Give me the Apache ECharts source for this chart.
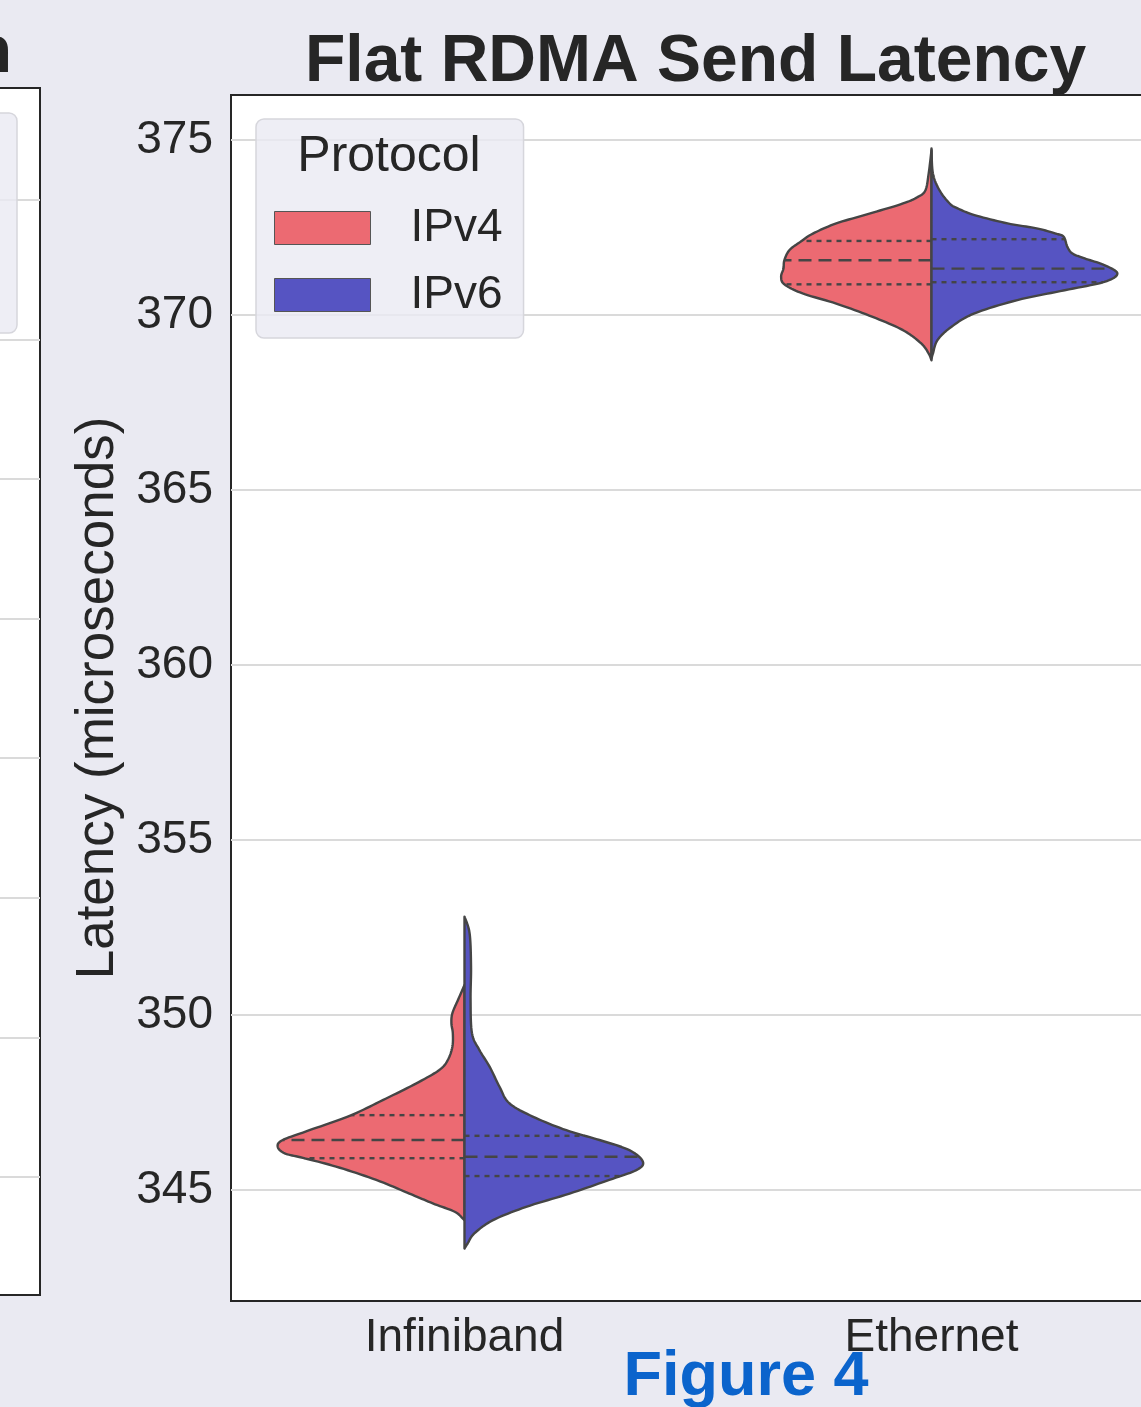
<!DOCTYPE html>
<html>
<head>
<meta charset="utf-8">
<script src="https://cdn.jsdelivr.net/npm/echarts@6/dist/echarts.min.js"></script>
<style>
  html, body { margin: 0; padding: 0; background: #eaeaf2; }
  #chart { width: 1141px; height: 1407px; }
</style>
</head>
<body>
<div id="chart"></div>
<script>
const categories = ['Infiniband', 'Ethernet']
const protocols = ['IPv4', 'IPv6']
const protocolColors = ['#ec6a72', '#5654c2']

// violin outlines: [latency, half width as fraction of the category band]
const infinibandIPv4 = [
  [350.86, 0], [350.43, 0.014], [350.05, 0.026], [349.76, 0.028], [349.48, 0.025],
  [349.09, 0.026], [348.71, 0.036], [348.43, 0.054], [348.05, 0.103], [347.57, 0.175],
  [347.12, 0.246], [346.71, 0.332], [346.43, 0.389], [346.24, 0.400], [346.05, 0.385],
  [345.92, 0.346], [345.67, 0.275], [345.29, 0.189], [344.90, 0.118], [344.62, 0.068],
  [344.38, 0.021], [344.19, 0.004], [344.14, 0],
]
const infinibandIPv6 = [
  [352.81, 0], [352.33, 0.011], [351.38, 0.014], [350.43, 0.013], [349.48, 0.016],
  [349.00, 0.032], [348.52, 0.054], [347.95, 0.075], [347.48, 0.096], [347.10, 0.146],
  [346.71, 0.218], [346.43, 0.289], [346.14, 0.353], [345.81, 0.382], [345.57, 0.368],
  [345.29, 0.310], [344.90, 0.225], [344.52, 0.132], [344.14, 0.061], [343.76, 0.021],
  [343.48, 0.007], [343.33, 0],
]
const ethernetIPv4 = [
  [374.71, 0], [374.05, 0.006], [373.57, 0.013], [373.38, 0.029], [373.19, 0.061],
  [372.90, 0.133], [372.62, 0.204], [372.33, 0.254], [372.11, 0.279], [371.86, 0.304],
  [371.57, 0.315], [371.33, 0.317], [371.10, 0.322], [370.88, 0.315], [370.62, 0.276],
  [370.33, 0.204], [369.95, 0.126], [369.57, 0.061], [369.19, 0.022], [368.90, 0.006],
  [368.71, 0],
]
const ethernetIPv6 = [
  [374.76, 0], [374.05, 0.003], [373.57, 0.017], [373.19, 0.039], [373.05, 0.056],
  [372.86, 0.092], [372.62, 0.163], [372.48, 0.225], [372.33, 0.266], [372.24, 0.283],
  [371.95, 0.291], [371.76, 0.302], [371.62, 0.328], [371.43, 0.370], [371.19, 0.398],
  [370.95, 0.370], [370.71, 0.285], [370.43, 0.184], [370.05, 0.092], [369.67, 0.043],
  [369.29, 0.013], [368.90, 0.003], [368.76, 0],
]

// [Q1, median, Q3]
const infinibandIPv4Quartiles = [345.91, 346.43, 347.14]
const infinibandIPv6Quartiles = [345.40, 345.95, 346.55]
const ethernetIPv4Quartiles = [370.88, 371.57, 372.12]
const ethernetIPv6Quartiles = [370.94, 371.33, 372.17]

const profiles = [[infinibandIPv4, ethernetIPv4], [infinibandIPv6, ethernetIPv6]]
const quartiles = [[infinibandIPv4Quartiles, ethernetIPv4Quartiles], [infinibandIPv6Quartiles, ethernetIPv6Quartiles]]

const FONT = '"Liberation Sans", Arial, sans-serif'
const TEXT = '#262626'
const EDGE = '#454545'

// catmull-rom through the outline points so the violin edge is smooth
function smoothOutline(pts, steps) {
  const out = []
  for (let i = 0; i < pts.length - 1; i++) {
    const p0 = pts[i - 1] || pts[i], p1 = pts[i], p2 = pts[i + 1], p3 = pts[i + 2] || pts[i + 1]
    for (let s = 0; s < steps; s++) {
      const t = s / steps, t2 = t * t, t3 = t2 * t
      const f = (a, b, c, d) => 0.5 * (2 * b + (c - a) * t + (2 * a - 5 * b + 4 * c - d) * t2 + (3 * b - a - 3 * c + d) * t3)
      out.push([f(p0[0], p1[0], p2[0], p3[0]), Math.max(0, f(p0[1], p1[1], p2[1], p3[1]))])
    }
  }
  out.push(pts[pts.length - 1])
  return out
}

function widthAt(outline, v) {
  for (let i = 0; i < outline.length - 1; i++) {
    const a = outline[i], b = outline[i + 1]
    if ((a[0] - v) * (b[0] - v) <= 0 && a[0] !== b[0]) {
      const k = (v - a[0]) / (b[0] - a[0])
      return a[1] + k * (b[1] - a[1])
    }
  }
  return 0
}

function renderViolin(params, api) {
  const si = params.seriesIndex
  const ci = api.value(0)
  const side = si === 0 ? -1 : 1
  const prof = profiles[si][ci]
  const quart = quartiles[si][ci]
  const cx = api.coord([ci, quart[1]])[0]
  const band = api.size([1, 0])[0]
  const outline = smoothOutline(prof, 10)
  const toPx = (v, w) => [cx + side * w * band, api.coord([ci, v])[1]]

  const pts = outline.map(([v, w]) => toPx(v, w))
  pts.unshift(toPx(prof[0][0], 0))
  pts.push(toPx(prof[prof.length - 1][0], 0))

  const children = [{
    type: 'polygon',
    shape: { points: pts },
    style: { fill: protocolColors[si], stroke: EDGE, lineWidth: 2.4, lineJoin: 'round' },
  }]
  quart.forEach((q, k) => {
    const w = widthAt(outline, q)
    const [x2, y] = toPx(q, w)
    children.push({
      type: 'line',
      shape: { x1: cx, y1: y, x2: x2, y2: y },
      style: { stroke: EDGE, lineWidth: 2.4, lineDash: k === 1 ? [13, 7] : [5, 5] },
    })
  })
  return { type: 'group', children }
}

const chart = echarts.init(document.getElementById('chart'))

chart.setOption({
  backgroundColor: '#eaeaf2',
  animation: false,
  textStyle: { fontFamily: FONT },
  title: [
    {
      text: 'Flat RDMA Send Latency',
      left: 305, top: 30, padding: 0,
      textStyle: { fontFamily: FONT, fontSize: 66, fontWeight: 'bold', color: TEXT },
    },
    {
      // title of the neighbouring panel, mostly outside the picture
      text: 'RDMA Write Latency Comparison',
      right: 1129, top: 21, padding: 0,
      textStyle: { fontFamily: FONT, fontSize: 66, fontWeight: 'bold', color: TEXT },
    },
  ],
  legend: {
    data: protocols,
    orient: 'vertical',
    left: 256, top: 119,
    padding: [86, 21, 20, 18],
    itemWidth: 96, itemHeight: 33, itemGap: 21,
    icon: 'rect',
    itemStyle: { borderColor: '#555', borderWidth: 1 },
    backgroundColor: 'rgba(234,234,242,0.8)',
    borderColor: '#d6d6dc', borderWidth: 1.5, borderRadius: 8,
    textStyle: { fontFamily: FONT, fontSize: 46, color: TEXT, padding: [0, 0, 0, 35] },
  },
  graphic: [
    {
      type: 'text', x: 389, y: 157, z: 100,
      style: { text: 'Protocol', fontFamily: FONT, fontSize: 50, fill: TEXT, align: 'center', verticalAlign: 'middle' },
    },
    {
      type: 'text', x: 746, y: 1378, z: 100,
      style: { text: 'Figure 4', fontFamily: FONT, fontSize: 63, fontWeight: 'bold', fill: '#0b64cc', align: 'center', verticalAlign: 'middle' },
    },
    {
      type: 'rect', z: 50,
      shape: { x: -40, y: 113, width: 57, height: 220, r: 8 },
      style: { fill: 'rgba(234,234,242,0.8)', stroke: '#d6d6dc', lineWidth: 1.5 },
    },
  ],
  grid: [
    {
      left: 231, right: -24, top: 95, bottom: 106,
      outerBoundsMode: 'none',
      show: true, backgroundColor: '#fff', borderColor: '#262626', borderWidth: 2,
    },
    {
      left: -300, right: 1101, top: 88, bottom: 112,
      outerBoundsMode: 'none',
      show: true, backgroundColor: '#fff', borderColor: '#262626', borderWidth: 2,
    },
  ],
  xAxis: [
    {
      type: 'category', gridIndex: 0, data: categories,
      axisLine: { show: false }, axisTick: { show: false }, splitLine: { show: false },
      axisLabel: { fontFamily: FONT, fontSize: 46, color: TEXT, margin: 14 },
    },
    {
      type: 'category', gridIndex: 1, data: [],
      axisLine: { show: false }, axisTick: { show: false }, axisLabel: { show: false },
    },
  ],
  yAxis: [
    {
      type: 'value', gridIndex: 0,
      min: 341.83, max: 376.29, splitNumber: 7,
      name: 'Latency (microseconds)', nameLocation: 'middle', nameGap: 106, nameRotate: 90,
      nameTextStyle: { fontFamily: FONT, fontSize: 53, color: TEXT },
      axisLine: { show: false }, axisTick: { show: false },
      axisLabel: { fontFamily: FONT, fontSize: 46, color: TEXT, margin: 18, showMinLabel: false, showMaxLabel: false },
      splitLine: { showMinLine: false, showMaxLine: false, lineStyle: { color: '#dadada', width: 2 } },
    },
    {
      type: 'value', gridIndex: 1,
      min: 1.155, max: 9.801, splitNumber: 8,
      axisLine: { show: false }, axisTick: { show: false }, axisLabel: { show: false },
      splitLine: { showMinLine: false, showMaxLine: false, lineStyle: { color: '#dadada', width: 2 } },
    },
  ],
  series: protocols.map((name, si) => ({
    name,
    type: 'custom',
    xAxisIndex: 0,
    yAxisIndex: 0,
    itemStyle: { color: protocolColors[si], borderColor: '#555', borderWidth: 1 },
    encode: { x: 0, y: 1 },
    data: categories.map((c, ci) => [ci, quartiles[si][ci][1]]),
    renderItem: renderViolin,
    z: 3,
  })),
})
</script>
</body>
</html>
